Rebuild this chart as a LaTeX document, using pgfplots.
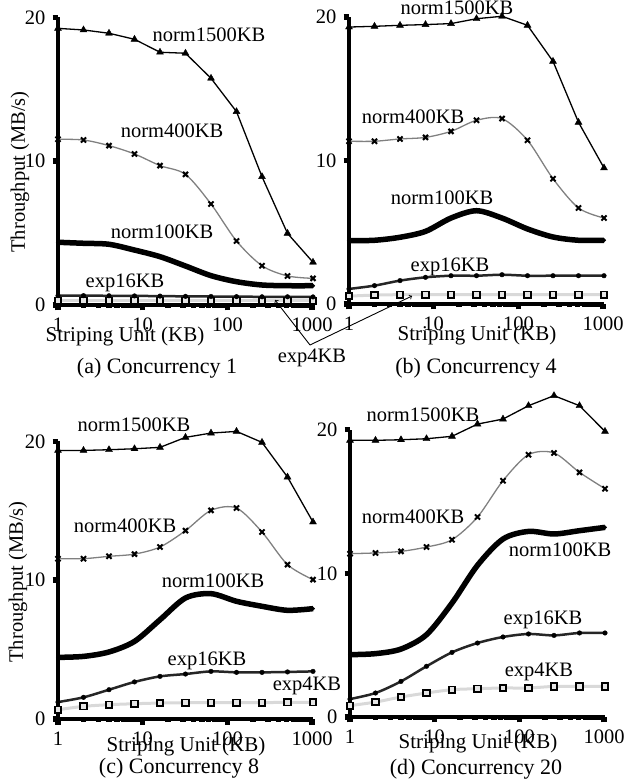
\documentclass[border=0pt]{standalone}
\usepackage{fontspec}
\setmainfont{Liberation Serif}
\usepackage{pgfplots}
\pgfplotsset{compat=1.18}
\usepackage{pgfplotstable}

% throughput (MB/s) vs striping unit (KB), one table per concurrency
\pgfplotstableread{
x    n1500 n400  n100 e16  e4
1    19.23 11.52 4.36 0.65 0.30
2    19.12 11.47 4.29 0.65 0.30
4    18.89 11.08 4.22 0.64 0.30
8    18.47 10.50 3.82 0.63 0.30
16   17.57 9.69  3.36 0.62 0.30
32   17.50 9.08  2.71 0.60 0.30
64   15.76 7.02  2.04 0.59 0.30
128  13.44 4.45  1.62 0.58 0.30
256  8.92  2.73  1.39 0.57 0.30
512  4.98  2.02  1.34 0.57 0.30
1024 2.97  1.85  1.34 0.56 0.30
}\concA
\pgfplotstableread{
x    n1500 n400  n100 e16  e4
1    19.30 11.34 4.41 1.05 0.55
2    19.35 11.34 4.44 1.28 0.62
4    19.42 11.50 4.65 1.63 0.65
8    19.47 11.61 5.06 1.86 0.65
16   19.54 12.03 5.99 1.97 0.65
32   19.88 12.80 6.50 1.97 0.65
64   20.05 12.92 5.99 2.04 0.65
128  19.42 11.41 5.23 1.97 0.65
256  16.91 8.73  4.67 1.97 0.65
512  12.66 6.69  4.44 1.97 0.65
1024 9.48  5.99  4.44 1.97 0.65
}\concB
\pgfplotstableread{
x    n1500 n400  n100 e16  e4
1    19.35 11.55 4.44 1.22 0.67
2    19.35 11.55 4.51 1.56 0.91
4    19.40 11.72 4.83 2.11 1.03
8    19.47 11.88 5.59 2.67 1.10
16   19.57 12.39 7.15 3.07 1.15
32   20.29 13.57 8.72 3.24 1.17
64   20.60 15.03 9.03 3.43 1.18
128  20.72 15.20 8.48 3.36 1.18
256  19.93 13.47 8.12 3.36 1.18
512  17.43 11.12 7.83 3.39 1.20
1024 14.19 10.04 7.95 3.43 1.20
}\concC
\pgfplotstableread{
x    n1500 n400  n100  e16  e4
1    19.26 11.37 4.34  1.25 0.79
2    19.26 11.42 4.41  1.67 1.04
4    19.30 11.53 4.73  2.48 1.39
8    19.37 11.83 5.73  3.53 1.67
16   19.54 12.34 7.93  4.50 1.90
32   20.39 13.92 10.56 5.15 1.97
64   20.74 16.45 12.39 5.57 2.02
128  21.67 18.26 12.92 5.78 2.02
256  22.37 18.38 12.74 5.68 2.13
512  21.67 17.03 12.97 5.85 2.13
1024 19.88 15.89 13.20 5.85 2.13
}\concD

\pgfplotsset{
  concpanel/.style={
    scale only axis, anchor=south west,
    width=255pt,
    xmin=1, xmax=1024, ymin=0, ymax=20,
    axis x line=bottom, axis y line=left,
    axis line style={-, line width=3.5pt},
    xtick={1,10,100,1000}, xticklabels={1,10,100,1000},
    ytick={0,10,20}, minor xtick={},
    major tick length=5.5pt, tick align=outside,
    tick style={black, line width=5.5pt},
    clip=false,
    /pgf/number format/assume math mode=true,
  },
}
\tikzset{
  ln1500/.style={black, line width=1.3pt, mark=triangle*, mark size=4pt, mark options={line width=0.4pt}},
  ln400/.style={gray, line width=1.3pt, smooth, mark=x, mark size=3.6pt, mark options={black, line width=2pt}},
  ln100/.style={black, line width=5.5pt, smooth, mark=*, mark size=1.8pt, mark options={line width=0.4pt}},
  lne16/.style={black!85, line width=2.5pt, smooth, mark=*, mark size=2.3pt, mark options={black, line width=0.4pt}},
  lne4/.style={black!15, line width=3pt, smooth, mark=square*, mark size=3.2pt, mark options={draw=black, fill=black!10, line width=1.8pt}},
}

\begin{document}
\fontsize{20.5}{24}\selectfont
\begin{tikzpicture}[font=\fontsize{20.5}{24}\selectfont]
\useasboundingbox (0pt,0pt) rectangle (626pt,784pt);

% (a) concurrency 1
\begin{semilogxaxis}[concpanel, at={(58pt,479pt)}, height=287.7pt]
  \addplot[lne4] table[y=e4]{\concA};
  \addplot[lne16] table[y=e16]{\concA};
  \addplot[ln100] table[y=n100]{\concA};
  \addplot[ln400] table[y=n400]{\concA};
  \addplot[ln1500] table[y=n1500]{\concA};
\end{semilogxaxis}

% (b) concurrency 4
\begin{semilogxaxis}[concpanel, at={(349pt,480pt)}, height=287pt]
  \addplot[lne4] table[y=e4]{\concB};
  \addplot[lne16] table[y=e16]{\concB};
  \addplot[ln100] table[y=n100]{\concB};
  \addplot[ln400] table[y=n400]{\concB};
  \addplot[ln1500] table[y=n1500]{\concB};
\end{semilogxaxis}

% (c) concurrency 8
\begin{semilogxaxis}[concpanel, at={(58pt,65pt)}, height=277.6pt]
  \addplot[lne4] table[y=e4]{\concC};
  \addplot[lne16] table[y=e16]{\concC};
  \addplot[ln100] table[y=n100]{\concC};
  \addplot[ln400] table[y=n400]{\concC};
  \addplot[ln1500] table[y=n1500]{\concC};
\end{semilogxaxis}

% (d) concurrency 20
\begin{semilogxaxis}[concpanel, at={(350pt,67pt)}, height=287.3pt]
  \addplot[lne4] table[y=e4]{\concD};
  \addplot[lne16] table[y=e16]{\concD};
  \addplot[ln100] table[y=n100]{\concD};
  \addplot[ln400] table[y=n400]{\concD};
  \addplot[ln1500] table[y=n1500]{\concD};
\end{semilogxaxis}

% curve labels
\begin{scope}[x=1pt, y=1pt]
\node at (209,749) {norm1500KB};
\node at (172,653) {norm400KB};
\node at (162,552) {norm100KB};
\node at (125,501) {exp16KB};
\node at (457,776) {norm1500KB};
\node at (413,667) {norm400KB};
\node at (442,586) {norm100KB};
\node at (450,517) {exp16KB};
\node at (134,359) {norm1500KB};
\node at (125,258) {norm400KB};
\node at (213,203) {norm100KB};
\node at (207,123) {exp16KB};
\node at (307,98) {exp4KB};
\node at (423,369) {norm1500KB};
\node at (413,267) {norm400KB};
\node at (560,234) {norm100KB};
\node at (543,164) {exp16KB};
\node at (539,112) {exp4KB};

% shared exp4KB label for (a) and (b)
\node at (312,426) {exp4KB};
\draw[line width=0.9pt, ->, >=to] (310,439) -- (275,484);
\draw[line width=0.9pt, ->, >=to] (310,439) -- (412,488);

% axis labels and captions
\node[rotate=90] at (20,612) {Throughput (MB/s)};
\node[rotate=90] at (18,202) {Throughput (MB/s)};
\node[font=\fontsize{21}{24}\selectfont] at (125,448) {Striping Unit (KB)};
\node[font=\fontsize{21}{24}\selectfont] at (477,449) {Striping Unit (KB)};
\node[font=\fontsize{21}{24}\selectfont] at (186,38) {Striping Unit (KB)};
\node[font=\fontsize{21}{24}\selectfont] at (478,41) {Striping Unit (KB)};
\begin{scope}[every node/.style={font=\fontsize{22}{26}\selectfont}]
\node at (157,416) {(a) Concurrency 1};
\node at (476,416) {(b) Concurrency 4};
\node at (179,16) {(c) Concurrency 8};
\node at (476,15) {(d) Concurrency 20};
\end{scope}
\end{scope}
\end{tikzpicture}
\end{document}
